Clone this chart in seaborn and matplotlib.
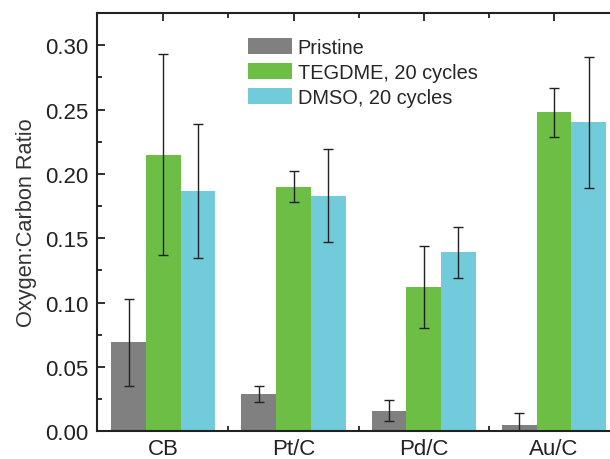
import numpy as np
import pandas as pd
import matplotlib
matplotlib.use("Agg")
import matplotlib.pyplot as plt
from matplotlib.ticker import MultipleLocator
import seaborn as sns

# values
catalysts = ["CB", "Pt/C", "Pd/C", "Au/C"]
series = ["Pristine", "TEGDME, 20 cycles", "DMSO, 20 cycles"]
pristine = [0.069, 0.029, 0.016, 0.005]
pristine_err = [0.034, 0.006, 0.008, 0.009]
tegdme = [0.215, 0.190, 0.112, 0.248]
tegdme_err = [0.078, 0.012, 0.032, 0.019]
dmso = [0.187, 0.183, 0.139, 0.240]
dmso_err = [0.052, 0.036, 0.020, 0.051]
colors = ["#808080", "#6cbe45", "#72cbdb"]

sns.set_style("ticks")
plt.rcParams["font.family"] = ["Liberation Sans", "DejaVu Sans"]

df = pd.DataFrame({
    "catalyst": catalysts * 3,
    "series": [s for s in series for _ in catalysts],
    "ratio": pristine + tegdme + dmso,
})
errs = [pristine_err, tegdme_err, dmso_err]

fig = plt.figure(figsize=(6.1, 4.6), dpi=100)
ax = fig.add_axes([97 / 610, 1 - 432.3 / 460, (619 - 97) / 610, (432.3 - 14) / 460])

sns.barplot(data=df, x="catalyst", y="ratio", hue="series", palette=colors,
            errorbar=None, width=0.8, saturation=1, linewidth=0, ax=ax)

for cont, err in zip(ax.containers, errs):
    xs = [p.get_x() + p.get_width() / 2 for p in cont]
    ys = [p.get_height() for p in cont]
    ax.errorbar(xs, ys, yerr=err, fmt="none", ecolor="#222222",
                elinewidth=1, capsize=3.5, capthick=1, zorder=5)

ax.set_xlim(-0.51, 3.5)
ax.set_ylim(0, 0.325)
ax.yaxis.set_major_locator(MultipleLocator(0.05))
ax.yaxis.set_minor_locator(MultipleLocator(0.025))
ax.set_xticks(np.arange(len(catalysts)))
ax.set_xticks(np.arange(len(catalysts)) + 0.5, minor=True)
ax.yaxis.set_major_formatter(matplotlib.ticker.FormatStrFormatter("%.2f"))

ax.tick_params(axis="both", which="both", direction="in", width=1.3,
               top=True, right=False, labelsize=16, colors="#222222")
ax.tick_params(axis="both", which="major", length=6, pad=6)
ax.tick_params(axis="both", which="minor", length=3.5)
ax.tick_params(axis="x", which="major", pad=5)

for side in ["left", "bottom", "top"]:
    ax.spines[side].set_linewidth(1.5)
    ax.spines[side].set_color("#222222")
ax.spines["right"].set_visible(False)

ax.set_xlabel("")
ax.set_ylabel("Oxygen:Carbon Ratio", fontsize=15.7, color="#333333", labelpad=6)

ax.legend(loc="upper left", bbox_to_anchor=(0.289, 0.94), frameon=False,
          fontsize=14.4, handlelength=2.2, handleheight=0.8, borderpad=0,
          handletextpad=0.3, labelspacing=0.3, borderaxespad=0)

fig.savefig("out.png", dpi=100)
